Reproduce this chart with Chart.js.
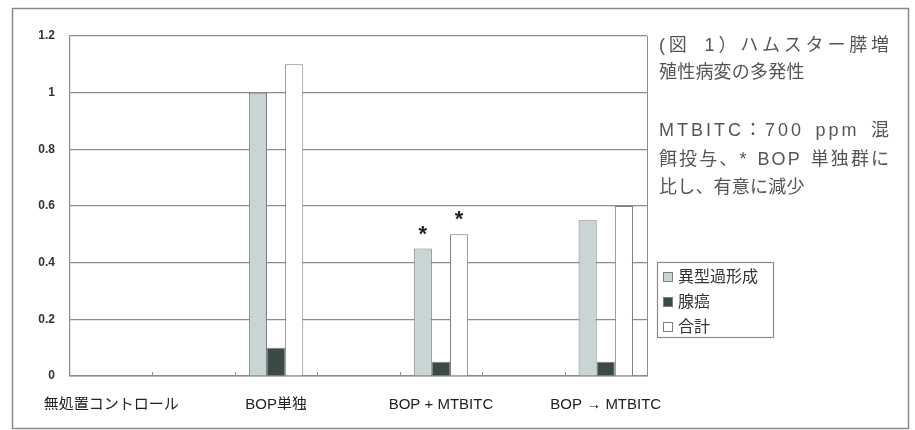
<!DOCTYPE html>
<html>
<head>
<meta charset="utf-8">
<script src="https://cdn.jsdelivr.net/npm/chart.js@4.4.1/dist/chart.umd.min.js"></script>
<style>
  html, body { margin: 0; padding: 0; background: #fff; }
  #wrap { width: 915px; height: 430px; position: relative; }
</style>
</head>
<body>
<div id="wrap"><canvas id="chart" width="915" height="430"></canvas></div>
<script>
// カテゴリ（空白カテゴリを挟んで Excel と同じ間隔にする）
const categories = ['無処置コントロール', '', 'BOP単独', '', 'BOP + MTBITC', '', 'BOP → MTBITC'];

// 系列データ
const dysplasia = [0, null, 1.0, null, 0.45, null, 0.55];   // 異型過形成
const adenocarcinoma = [0, null, 0.1, null, 0.05, null, 0.05]; // 腺癌
const total = [0, null, 1.1, null, 0.5, null, 0.6];          // 合計

const seriesNames = ['異型過形成', '腺癌', '合計'];
const yTicks = [0, 0.2, 0.4, 0.6, 0.8, 1, 1.2];

// 有意差の * （カテゴリ番号, 系列番号）
const starMarks = [[4, 0], [4, 2]];

// 右側の説明文
const noteLines = [
  { text: '(図 1）ハムスター膵増', justify: true },
  { text: '殖性病変の多発性', justify: false },
  { text: '', justify: false },
  { text: 'MTBITC：700 ppm 混', justify: true },
  { text: '餌投与、* BOP 単独群に', justify: true },
  { text: '比し、有意に減少', justify: false }
];

// 欧文は Liberation Sans、和文は Noto Sans CJK JP
const JP = '"Liberation Sans", "Noto Sans CJK JP", sans-serif';
const fills = ['#c8d5d4', '#3b4947', '#ffffff'];
const edge = '#7b7f7e';

// 枠・説明文・凡例・* を描くプラグイン
const decorPlugin = {
  id: 'decor',
  beforeDraw(chart) {
    const ctx = chart.ctx;
    ctx.save();
    ctx.fillStyle = '#fff';
    ctx.fillRect(0, 0, chart.width, chart.height);
    ctx.strokeStyle = '#8a8a8a';
    ctx.lineWidth = 1.5;
    ctx.strokeRect(12.5, 8.5, 896, 420);
    ctx.restore();
  },
  afterDatasetsDraw(chart) {
    const ctx = chart.ctx;
    const area = chart.chartArea;
    const xScale = chart.scales.x;
    ctx.save();

    // 目盛り（カテゴリ境界、内側）
    const step = (area.right - area.left) / categories.length;
    ctx.strokeStyle = '#8c8c8c';
    ctx.lineWidth = 1;
    for (let i = 1; i < categories.length; i++) {
      const x = Math.round(xScale.getPixelForValue(i) - step / 2) + 0.5;
      ctx.beginPath();
      ctx.moveTo(x, area.bottom - 4);
      ctx.lineTo(x, area.bottom);
      ctx.stroke();
    }

    // プロット枠（右辺）
    ctx.beginPath();
    ctx.moveTo(Math.round(area.right) + 0.5, area.top);
    ctx.lineTo(Math.round(area.right) + 0.5, area.bottom);
    ctx.stroke();

    // * 印
    ctx.fillStyle = '#222';
    ctx.font = 'bold 22px "Liberation Sans", sans-serif';
    ctx.textAlign = 'center';
    ctx.textBaseline = 'middle';
    starMarks.forEach(([cat, ds]) => {
      const bar = chart.getDatasetMeta(ds).data[cat];
      ctx.fillText('*', bar.x, bar.y - 14);
    });

    // 凡例
    const lx = 657, ly = 262;
    ctx.strokeStyle = '#8a8a8a';
    ctx.lineWidth = 1.2;
    ctx.strokeRect(lx + 0.5, ly + 0.5, 116, 75);
    ctx.font = '16px ' + JP;
    ctx.textAlign = 'left';
    seriesNames.forEach((name, i) => {
      const cy = ly + 15 + i * 25;
      ctx.fillStyle = fills[i];
      ctx.fillRect(lx + 6.5, cy - 4.5, 9, 9);
      ctx.strokeStyle = edge;
      ctx.lineWidth = 1;
      ctx.strokeRect(lx + 6.5, cy - 4.5, 9, 9);
      ctx.fillStyle = '#333';
      ctx.fillText(name, lx + 21, cy + 1);
    });

    // 説明文（行末揃え：空白は重み 3、その他の字間は重み 1）
    ctx.fillStyle = '#555';
    ctx.font = '18px ' + JP;
    ctx.textBaseline = 'middle';
    const noteX = 659, noteW = 230;
    const lineY = [46, 73, 102, 131, 160, 188];
    noteLines.forEach((line, i) => {
      if (!line.text) return;
      const y = lineY[i];
      const track = line.justify ? 1.2 : 0.2;
      const chars = Array.from(line.text);
      const widths = chars.map(c => ctx.measureText(c).width);
      const natural = widths.reduce((a, b) => a + b, 0) + track * (chars.length - 1);
      const weights = chars.map((c, k) => k === chars.length - 1 ? 0 : (c === ' ' ? 3 : 1));
      const totalW = weights.reduce((a, b) => a + b, 0);
      const unit = line.justify ? Math.max(0, (noteW - natural) / totalW) : 0;
      let x = noteX;
      chars.forEach((c, k) => {
        ctx.fillText(c, x, y);
        x += widths[k] + track + weights[k] * unit;
      });
    });

    ctx.restore();
  }
};

const ctx = document.getElementById('chart').getContext('2d');

new Chart(ctx, {
  type: 'bar',
  data: {
    labels: categories,
    datasets: [
      { label: seriesNames[0], data: dysplasia, backgroundColor: fills[0], borderColor: edge, borderWidth: 1 },
      { label: seriesNames[1], data: adenocarcinoma, backgroundColor: fills[1], borderColor: edge, borderWidth: 1 },
      { label: seriesNames[2], data: total, backgroundColor: fills[2], borderColor: edge, borderWidth: 1 }
    ]
  },
  options: {
    responsive: false,
    animation: false,
    layout: { padding: { left: 12, right: 268, top: 36, bottom: 20 } },
    datasets: {
      bar: { categoryPercentage: 0.66, barPercentage: 1.0 }
    },
    plugins: {
      legend: { display: false },
      tooltip: { enabled: false }
    },
    scales: {
      x: {
        grid: { display: false },
        border: { display: true, color: '#8c8c8c', width: 1.5 },
        ticks: {
          autoSkip: false,
          maxRotation: 0,
          padding: 12,
          color: '#222',
          font: { family: JP, size: 15 }
        },
        afterFit(scale) { scale.height = 34; }
      },
      y: {
        min: 0,
        max: 1.2,
        afterBuildTicks(scale) { scale.ticks = yTicks.map(v => ({ value: v })); },
        grid: { color: '#8c8c8c', lineWidth: 1.2, drawTicks: false },
        border: { display: true, color: '#8c8c8c', width: 1.2 },
        ticks: {
          padding: 15,
          color: '#333',
          font: { family: '"Liberation Sans", Arial, sans-serif', size: 12, weight: 'bold' },
          callback: v => String(v)
        },
        afterFit(scale) { scale.width = 58; }
      }
    }
  },
  plugins: [decorPlugin]
});
</script>
</body>
</html>
